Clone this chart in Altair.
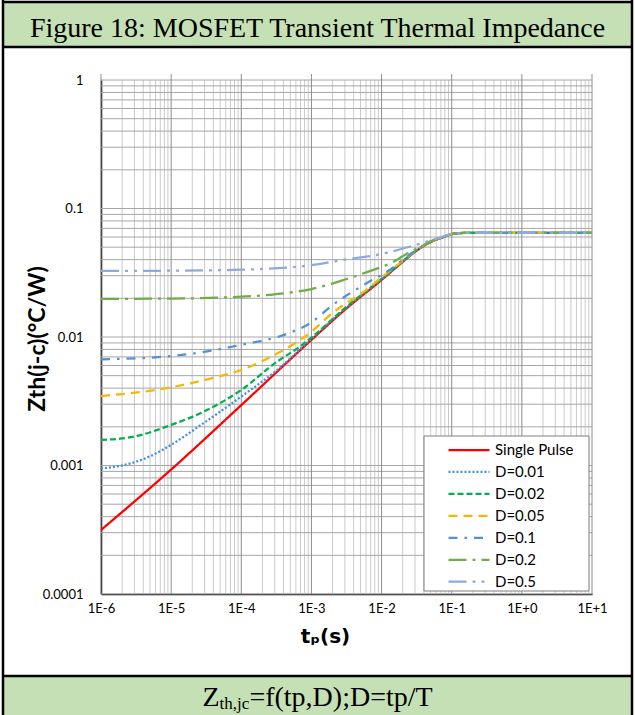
import altair as alt
import pandas as pd

# ---------------- data ----------------
series_names = ["Single Pulse", "D=0.01", "D=0.02", "D=0.05", "D=0.1", "D=0.2", "D=0.5"]

t_single = [1e-6, 1e-5, 1e-4, 1e-3, 3e-3, 1e-2, 2e-2, 3e-2, 5e-2, 7.5e-2, 1e-1, 1.5e-1, 1, 10]
z_single = [3.15e-4, 9.3e-4, 2.95e-3, 9.5e-3, 0.0163, 0.0278, 0.0384, 0.046, 0.0548, 0.0597, 0.0632, 0.0645, 0.0645, 0.0645]

t_d001 = [1e-6, 2e-6, 5e-6, 1e-5, 2.6e-5, 1e-4, 3.2e-4, 1e-3, 3e-3, 1e-2, 2e-2, 3e-2, 5e-2, 7.5e-2, 1e-1, 1.5e-1, 1, 10]
z_d001 = [9.5e-4, 1.0e-3, 1.18e-3, 1.45e-3, 2.05e-3, 3.44e-3, 5.5e-3, 9.7e-3, 0.0166, 0.0281, 0.0386, 0.0462, 0.055, 0.0598, 0.0633, 0.0645, 0.0645, 0.0645]

t_d002 = [1e-6, 3e-6, 1e-5, 2.6e-5, 1e-4, 3.2e-4, 6.8e-4, 1e-3, 3e-3, 1e-2, 2e-2, 3e-2, 5e-2, 7.5e-2, 1e-1, 1.5e-1, 1, 10]
z_d002 = [1.58e-3, 1.68e-3, 2.07e-3, 2.55e-3, 3.87e-3, 6.4e-3, 8.4e-3, 9.9e-3, 0.0168, 0.0283, 0.0388, 0.0463, 0.0551, 0.0598, 0.0634, 0.0645, 0.0645, 0.0645]

t_d005 = [1e-6, 1e-5, 3e-5, 1e-4, 3.2e-4, 1e-3, 2e-3, 6e-3, 1e-2, 2e-2, 3e-2, 5e-2, 7.5e-2, 1e-1, 1.5e-1, 1, 10]
z_d005 = [3.47e-3, 4.06e-3, 4.63e-3, 5.54e-3, 7.4e-3, 0.011, 0.0154, 0.0232, 0.029, 0.0392, 0.0465, 0.0552, 0.0599, 0.0634, 0.0645, 0.0645, 0.0645]

t_d01 = [1e-6, 1e-5, 1e-4, 4.5e-4, 1e-3, 2e-3, 6.2e-3, 1.3e-2, 2e-2, 3e-2, 5e-2, 7.5e-2, 1e-1, 1.5e-1, 1, 10]
z_d01 = [6.7e-3, 7.1e-3, 8.7e-3, 0.0106, 0.013, 0.0177, 0.0263, 0.0332, 0.040, 0.0467, 0.0553, 0.060, 0.0634, 0.0645, 0.0645, 0.0645]

t_d02 = [1e-6, 1e-5, 1e-4, 3e-4, 1e-3, 3e-3, 6.2e-3, 1.45e-2, 2.5e-2, 3.5e-2, 5e-2, 7.5e-2, 1e-1, 1.5e-1, 1, 10]
z_d02 = [0.0198, 0.0199, 0.0206, 0.0215, 0.0236, 0.028, 0.032, 0.0383, 0.0458, 0.050, 0.0555, 0.060, 0.0634, 0.0645, 0.0645, 0.0645]

t_d05 = [1e-6, 1e-5, 1e-4, 1e-3, 2.8e-3, 1e-2, 2.5e-2, 4.4e-2, 7.5e-2, 1e-1, 1.5e-1, 1, 10]
z_d05 = [0.0327, 0.0328, 0.0334, 0.0362, 0.0398, 0.0443, 0.0504, 0.0552, 0.0604, 0.0634, 0.0645, 0.0645, 0.0645]

series_t = [t_single, t_d001, t_d002, t_d005, t_d01, t_d02, t_d05]
series_z = [z_single, z_d001, z_d002, z_d005, z_d01, z_d02, z_d05]

colors = ["#FF0000", "#3D8FD9", "#00B050", "#F5B800", "#5590D0", "#70AD47", "#8EA9DB"]
dashes = [[1, 0], [2, 2], [6, 3], [9, 6], [9, 7, 2.5, 7], [18, 6, 3, 6], [18, 6, 3, 6, 3, 6]]

x_major = [1e-6, 1e-5, 1e-4, 1e-3, 1e-2, 1e-1, 1, 10]
x_labels = ["1E-6", "1E-5", "1E-4", "1E-3", "1E-2", "1E-1", "1E+0", "1E+1"]
y_major = [1e-4, 1e-3, 1e-2, 1e-1, 1]
y_labels = ["0.0001", "0.001", "0.01", "0.1", "1"]
minor_mult = [2, 3, 4, 5, 6, 7, 8, 9]

header_text = "Figure 18: MOSFET Transient Thermal Impedance"
footer_main = "Z"
footer_sub = "th,jc"
footer_rest = "=f(tp,D);D=tp/T"
x_title = "t\u209a(s)"
y_title = "Zth(j-c)(\u00b0C/W)"

# ---------------- tables ----------------
rows = []
for name, ts, zs in zip(series_names, series_t, series_z):
    for t, z in zip(ts, zs):
        rows.append({"series": name, "t": t, "z": z})
df = pd.DataFrame(rows)

x_minor = [m * d for d in x_major[:-1] for m in minor_mult]
y_minor = [m * d for d in y_major[:-1] for m in minor_mult]
y_all = sorted(y_minor + y_major)

dummy = pd.DataFrame({"a": [0]})

xs = alt.Scale(type="log", domain=[1e-6, 10], nice=False)
ys = alt.Scale(type="log", domain=[1e-4, 1], nice=False)

W, H = 491, 514
X0, Y0 = 101, 80  # page position of the plot origin


def px(v):
    return v - X0


def py(v):
    return v - Y0


x_label_js = "[" + ",".join("'%s'" % s for s in x_labels) + "]"
y_label_js = "[" + ",".join("'%s'" % s for s in y_labels) + "]"

x_axis = alt.Axis(
    values=x_major, labelExpr=x_label_js + "[round(log(datum.value)/LN10)+6]",
    grid=False, ticks=False, tickSize=0, domainColor="black", domainWidth=1.5,
    labelFlush=False, labelOverlap=False,
    labelFont="Lato", labelFontSize=13, labelColor="#000", labelPadding=8,
    title=x_title, titleFont="DejaVu Sans", titleFontSize=20, titleFontWeight="bold",
    titleColor="#000", titleX=224, titleY=42, titleBaseline="middle")
y_axis = alt.Axis(
    values=y_major, labelExpr=y_label_js + "[round(log(datum.value)/LN10)+4]",
    grid=False, ticks=False, tickSize=0, domainColor="black", domainWidth=1.5,
    labelFlush=False, labelOverlap=False,
    labelFont="Lato", labelFontSize=13, labelColor="#000", labelPadding=18,
    title=y_title, titleFont="Lato", titleFontSize=23, titleFontWeight="bold",
    titleColor="#000", titleX=-64, titleY=258.5, titleBaseline="middle")

# ---------------- decorations (frame, header, footer) ----------------
header_bg = alt.Chart(dummy).mark_rect(color="#C5E0B4").encode(
    x=alt.value(px(3)), x2=alt.value(px(632)), y=alt.value(py(2)), y2=alt.value(py(47)))
footer_bg = alt.Chart(dummy).mark_rect(color="#C5E0B4").encode(
    x=alt.value(px(3)), x2=alt.value(px(632)), y=alt.value(py(676)), y2=alt.value(py(715)))

frame_l = alt.Chart(dummy).mark_rule(color="black", strokeWidth=2.5).encode(
    x=alt.value(px(3)), y=alt.value(py(0)), y2=alt.value(py(715)))
frame_r = alt.Chart(dummy).mark_rule(color="black", strokeWidth=2.5).encode(
    x=alt.value(px(632)), y=alt.value(py(0)), y2=alt.value(py(715)))
frame_t = alt.Chart(dummy).mark_rule(color="black", strokeWidth=2.5).encode(
    x=alt.value(px(2)), x2=alt.value(px(633)), y=alt.value(py(2)))
frame_h = alt.Chart(dummy).mark_rule(color="black", strokeWidth=2.5).encode(
    x=alt.value(px(2)), x2=alt.value(px(633)), y=alt.value(py(47)))
frame_f = alt.Chart(dummy).mark_rule(color="black", strokeWidth=2.5).encode(
    x=alt.value(px(2)), x2=alt.value(px(633)), y=alt.value(py(676)))

header = alt.Chart(dummy).mark_text(
    text=header_text, font="Liberation Serif", fontSize=28, align="center",
    baseline="alphabetic", color="black").encode(x=alt.value(px(317.5)), y=alt.value(py(37)))

foot1 = alt.Chart(dummy).mark_text(
    text=footer_main, font="Liberation Serif", fontSize=28, align="left",
    baseline="alphabetic", color="black").encode(x=alt.value(px(202.5)), y=alt.value(py(706)))
foot2 = alt.Chart(dummy).mark_text(
    text=footer_sub, font="Liberation Serif", fontSize=17, align="left",
    baseline="alphabetic", color="black").encode(x=alt.value(px(219.6)), y=alt.value(py(709)))
foot3 = alt.Chart(dummy).mark_text(
    text=footer_rest, font="Liberation Serif", fontSize=28, align="left",
    baseline="alphabetic", color="black").encode(x=alt.value(px(249.4)), y=alt.value(py(706)))

# ---------------- grid ----------------
grid_xminor = alt.Chart(pd.DataFrame({"v": x_minor})).mark_rule(color="#CACACA", strokeWidth=1).encode(
    x=alt.X("v:Q", scale=xs, axis=x_axis))
grid_y = alt.Chart(pd.DataFrame({"v": y_all})).mark_rule(color="#A6A6A6", strokeWidth=1).encode(
    y=alt.Y("v:Q", scale=ys, axis=y_axis))
grid_xmajor = alt.Chart(pd.DataFrame({"v": x_major})).mark_rule(color="#8C8C8C", strokeWidth=1).encode(
    x=alt.X("v:Q", scale=xs, axis=x_axis), y=alt.value(-6), y2=alt.value(H))

legend_box = alt.Chart(dummy).mark_rect(fill="white", stroke="#7F7F7F", strokeWidth=1).encode(
    x=alt.value(px(424)), x2=alt.value(px(589)), y=alt.value(py(436)), y2=alt.value(py(591)))

# ---------------- data lines ----------------
leg = alt.Legend(orient="none", legendX=px(447), legendY=py(443.5),
                 title=None, symbolType="stroke", symbolSize=1681,
                 symbolStrokeWidth=2.25, clipHeight=13, rowPadding=5.95,
                 labelFont="Lato", labelFontSize=15, labelColor="#000",
                 labelOffset=4, padding=0)

lines = alt.Chart(df).mark_line(strokeWidth=2.25, interpolate="monotone").encode(
    x=alt.X("t:Q", scale=xs, axis=x_axis),
    y=alt.Y("z:Q", scale=ys, axis=y_axis),
    color=alt.Color("series:N", scale=alt.Scale(domain=series_names, range=colors),
                    sort=series_names, legend=leg),
    strokeDash=alt.StrokeDash("series:N", scale=alt.Scale(domain=series_names, range=dashes),
                              sort=series_names, legend=leg),
)

chart = alt.layer(
    header_bg, footer_bg, header, foot1, foot2, foot3,
    grid_xminor, grid_y, grid_xmajor, legend_box, lines,
    frame_l, frame_r, frame_t, frame_h, frame_f,
).properties(
    width=W, height=H, autosize="none",
    padding={"left": X0, "top": Y0, "right": 635 - X0 - W, "bottom": 715 - Y0 - H},
    background="white",
).configure_view(stroke=None)

chart.save("out.html", embed_options={"renderer": "svg", "actions": False})
